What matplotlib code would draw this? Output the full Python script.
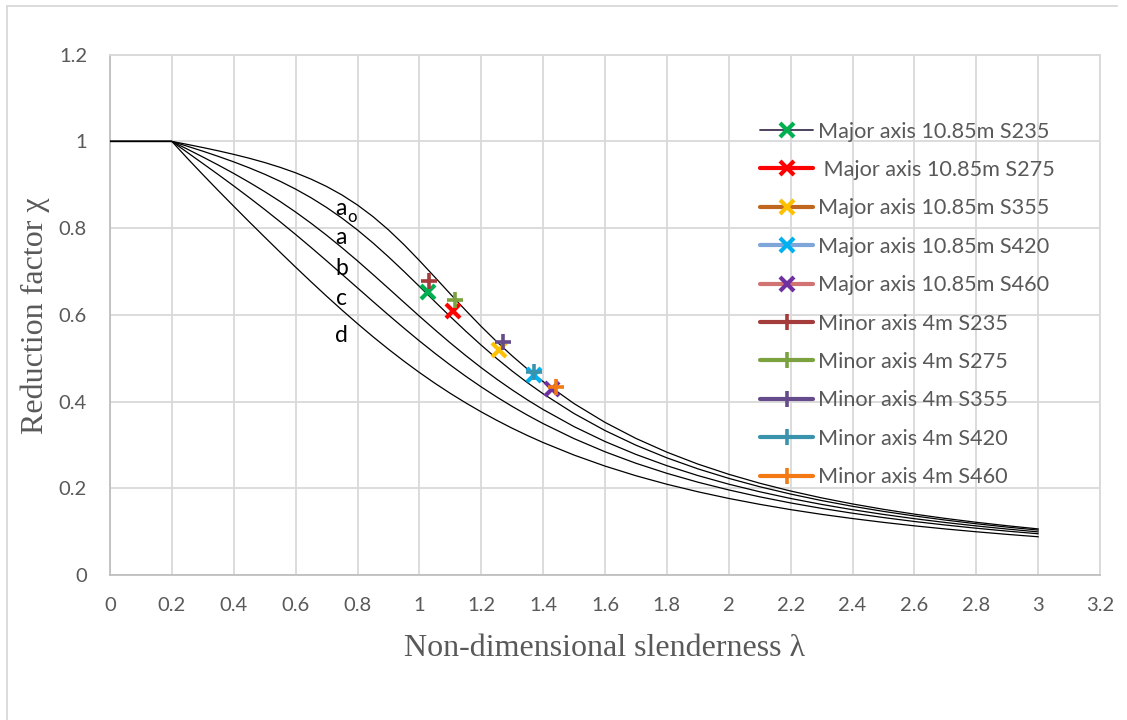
import matplotlib
matplotlib.use("Agg")
import matplotlib.pyplot as plt
from matplotlib.lines import Line2D

# ---- data ----
lam = [0.0, 0.2, 0.25, 0.3, 0.35, 0.4, 0.45, 0.5, 0.55, 0.6, 0.65, 0.7, 0.75, 0.8,
       0.85, 0.9, 0.95, 1.0, 1.05, 1.1, 1.15, 1.2, 1.25, 1.3, 1.35, 1.4, 1.5,
       1.6, 1.7, 1.8, 1.9, 2.0, 2.1, 2.2, 2.3, 2.4, 2.5, 2.6, 2.7, 2.8, 2.9, 3.0]
chi_a0 = [1.0, 1.0, 0.9931, 0.9859, 0.9783, 0.9701, 0.9612, 0.9513, 0.9402, 0.9276,
          0.9130, 0.8961, 0.8764, 0.8533, 0.8266, 0.7961, 0.7621, 0.7253, 0.6870,
          0.6482, 0.6101, 0.5732, 0.5382, 0.5053, 0.4746, 0.4461, 0.3953, 0.3520,
          0.3150, 0.2833, 0.2559, 0.2323, 0.2117, 0.1937, 0.1779, 0.1639, 0.1515,
          0.1404, 0.1305, 0.1216, 0.1136, 0.1063]
chi_a = [1.0, 1.0, 0.9889, 0.9775, 0.9655, 0.9528, 0.9391, 0.9243, 0.9080, 0.8900,
         0.8700, 0.8477, 0.8230, 0.7957, 0.7659, 0.7339, 0.7003, 0.6656, 0.6306,
         0.5960, 0.5623, 0.5300, 0.4993, 0.4703, 0.4432, 0.4179, 0.3724, 0.3332,
         0.2994, 0.2702, 0.2449, 0.2229, 0.2036, 0.1867, 0.1717, 0.1585, 0.1467,
         0.1362, 0.1267, 0.1182, 0.1105, 0.1036]
chi_b = [1.0, 1.0, 0.9822, 0.9641, 0.9455, 0.9261, 0.9057, 0.8842, 0.8614, 0.8371,
         0.8112, 0.7837, 0.7547, 0.7245, 0.6931, 0.6612, 0.6290, 0.5970, 0.5657,
         0.5352, 0.5060, 0.4781, 0.4517, 0.4269, 0.4035, 0.3817, 0.3422, 0.3079,
         0.2781, 0.2521, 0.2294, 0.2095, 0.1920, 0.1765, 0.1628, 0.1506, 0.1397,
         0.1299, 0.1211, 0.1132, 0.1060, 0.0994]
chi_c = [1.0, 1.0, 0.9746, 0.9491, 0.9235, 0.8973, 0.8705, 0.8430, 0.8146, 0.7854,
         0.7554, 0.7247, 0.6935, 0.6622, 0.6308, 0.5998, 0.5695, 0.5399, 0.5115,
         0.4842, 0.4583, 0.4338, 0.4106, 0.3888, 0.3684, 0.3492, 0.3145, 0.2842,
         0.2577, 0.2345, 0.2141, 0.1962, 0.1803, 0.1662, 0.1537, 0.1425, 0.1325,
         0.1234, 0.1153, 0.1079, 0.1012, 0.0951]
chi_d = [1.0, 1.0, 0.9611, 0.9235, 0.8866, 0.8504, 0.8146, 0.7793, 0.7444, 0.7100,
         0.6762, 0.6431, 0.6109, 0.5797, 0.5496, 0.5208, 0.4933, 0.4671, 0.4423,
         0.4189, 0.3969, 0.3762, 0.3568, 0.3385, 0.3215, 0.3055, 0.2766, 0.2512,
         0.2289, 0.2093, 0.1920, 0.1766, 0.1630, 0.1508, 0.1399, 0.1302, 0.1214,
         0.1134, 0.1062, 0.0997, 0.0937, 0.0882]

major_labels = ["Major axis 10.85m S235", " Major axis 10.85m S275",
                "Major axis 10.85m S355", "Major axis 10.85m S420",
                "Major axis 10.85m S460"]
major_x = [1.027, 1.108, 1.258, 1.371, 1.430]
major_y = [0.653, 0.608, 0.520, 0.461, 0.430]

minor_labels = ["Minor axis 4m S235", "Minor axis 4m S275", "Minor axis 4m S355",
                "Minor axis 4m S420", "Minor axis 4m S460"]
minor_x = [1.032, 1.116, 1.269, 1.371, 1.443]
minor_y = [0.678, 0.634, 0.538, 0.468, 0.434]

x_ticks = [0, 0.2, 0.4, 0.6, 0.8, 1, 1.2, 1.4, 1.6, 1.8, 2, 2.2, 2.4, 2.6, 2.8, 3, 3.2]
y_ticks = [0, 0.2, 0.4, 0.6, 0.8, 1, 1.2]

# ---- styles ----
major_line_col = ["#403152", "#FF0000", "#C0661E", "#7FA6D9", "#D17373"]
major_mark_col = ["#00B050", "#FF0000", "#FFC000", "#00B0F0", "#7030A0"]
major_lw = [1.3, 3, 3, 3, 3]
minor_col = ["#A33C3A", "#7BA23F", "#664B8C", "#3A93AD", "#F27913"]

W, H = 1127, 720
fig = plt.figure(figsize=(W / 100, H / 100), dpi=100)
ax = fig.add_axes([110 / W, 1 - 575 / H, (1100 - 110) / W, (575 - 54.7) / H])

for c in [chi_a0, chi_a, chi_b, chi_c, chi_d]:
    ax.plot(lam, c, color="black", lw=0.9, zorder=3)

handles = []
for i in range(5):
    ax.plot([major_x[i]], [major_y[i]], linestyle="none", marker="x", ms=10, mew=3,
            color=major_mark_col[i], zorder=5)
    handles.append(Line2D([0], [0], color=major_line_col[i], lw=major_lw[i], marker="x",
                          ms=10, mew=3, mec=major_mark_col[i], mfc=major_mark_col[i],
                          label=major_labels[i], solid_capstyle="round"))
for i in range(5):
    ax.plot([minor_x[i]], [minor_y[i]], linestyle="none", marker="+", ms=11, mew=2.6,
            color=minor_col[i], zorder=5)
    handles.append(Line2D([0], [0], color=minor_col[i], lw=3, marker="+", ms=11, mew=2.6,
                          label=minor_labels[i], solid_capstyle="round"))

ax.set_xlim(0, 3.2)
ax.set_ylim(0, 1.2)
ax.set_xticks(x_ticks)
ax.set_xticklabels([f"{v:g}" for v in x_ticks])
ax.set_yticks(y_ticks)
ax.set_yticklabels([f"{v:g}" for v in y_ticks])
ax.grid(True, color="#D9D9D9", lw=1.3, zorder=0)
ax.set_axisbelow(True)
for s in ax.spines.values():
    s.set_color("#D9D9D9")
    s.set_linewidth(1.3)
ax.spines["left"].set_color("#BFBFBF")
ax.spines["bottom"].set_color("#BFBFBF")
ax.tick_params(length=0, labelsize=14.5, labelcolor="#595959")
ax.tick_params(axis="x", pad=16)
ax.tick_params(axis="y", pad=16.5)
for lab in ax.get_xticklabels() + ax.get_yticklabels():
    lab.set_family("Lato")

# curve labels
lx = 0.748
fs = 16.5
ax.text(lx, 0.846, "a", fontsize=fs, family="Lato", ha="center", va="center", zorder=6)
ax.text(lx + 0.034, 0.825, "o", fontsize=12, family="Lato", ha="center", va="center", zorder=6)
ax.text(lx, 0.779, "a", fontsize=fs, family="Lato", ha="center", va="center", zorder=6)
ax.text(lx, 0.707, "b", fontsize=fs, family="Lato", ha="center", va="center", zorder=6)
ax.text(lx, 0.638, "c", fontsize=fs, family="Lato", ha="center", va="center", zorder=6)
ax.text(lx, 0.553, "d", fontsize=fs, family="Lato", ha="center", va="center", zorder=6)

fig.text(605 / W, 1 - 648 / H, "Non-dimensional slenderness λ", family="Liberation Serif",
         fontsize=23, color="#595959", ha="center", va="center")
fig.text(35 / W, 1 - 316 / H, "Reduction factor χ", family="Liberation Serif",
         fontsize=23, color="#595959", ha="center", va="center", rotation=90)

leg = fig.legend(handles=handles, loc="upper left", bbox_to_anchor=(760 / W, 1 - 121.5 / H),
                 frameon=False, prop={"family": "Lato", "size": 15.6}, handlelength=2.45,
                 handletextpad=0.23, labelspacing=0.85, borderaxespad=0, borderpad=0)
for t in leg.get_texts():
    t.set_color("#595959")

# chart-area frame (top and left edges visible)
fig.add_artist(Line2D([7 / W, 1117 / W], [1 - 6 / H, 1 - 6 / H], color="#D9D9D9", lw=1.3))
fig.add_artist(Line2D([7 / W, 7 / W], [1 - 6 / H, 0], color="#D9D9D9", lw=1.3))

fig.savefig("out.png", dpi=100)
